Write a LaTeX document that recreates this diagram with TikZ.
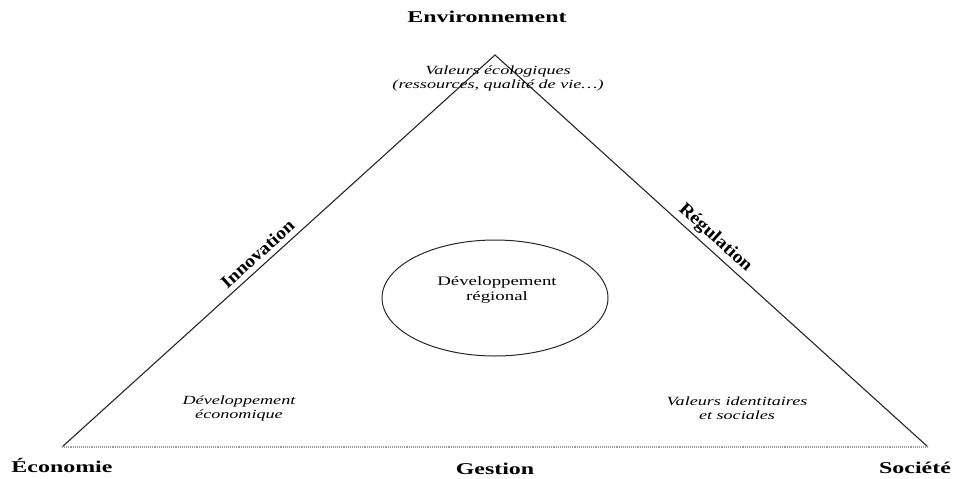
\documentclass[tikz,border=0pt]{standalone}
\usepackage{fontspec}
\setmainfont{Liberation Serif}[FakeStretch=1.45]
\newfontfamily\sidefont{Liberation Serif}[FakeStretch=1.1]
\usetikzlibrary{shapes.geometric}
\begin{document}
\begin{tikzpicture}[x=1pt,y=-1pt,
  corner/.style={font=\bfseries\fontsize{16.5}{19}\selectfont, anchor=base, inner sep=0pt},
  sidelabel/.style={font=\sidefont\bfseries\fontsize{18}{20}\selectfont, inner sep=0pt},
  pole/.style={font=\itshape\fontsize{12.5}{14}\selectfont, align=center, inner sep=0pt},
  centre/.style={font=\fontsize{13}{15}\selectfont, align=center, inner sep=0pt},
  edgeline/.style={line width=1.1pt, black!85},
  baseline/.style={line width=1.1pt, gray!75, densely dotted}]
\path[use as bounding box] (0,0) rectangle (969,479);
\coordinate (A) at (495,55);
\coordinate (E) at (62,447);
\coordinate (S) at (928,447);
\draw[edgeline] (E) -- (A) -- (S);
\draw[baseline] (E) -- (S);
\path (E) -- (A) node[sidelabel, sloped, above=12pt, pos=0.47, anchor=center] (innov) {Innovation};
\path (A) -- (S) node[sidelabel, sloped, above=12pt, pos=0.49, anchor=center] (regul) {Régulation};
\node[ellipse, draw, line width=1pt, black!85, minimum width=226pt, minimum height=116pt, inner sep=0pt] (R) at (495,298) {};
\node[centre] (Rt) at (497,290) {Développement\\régional};
\node[corner] (env) at (487,22) {Environnement};
\node[corner] (eco) at (62,472) {Économie};
\node[corner] (ges) at (495,474) {Gestion};
\node[corner] (soc) at (915,473) {Société};
\node[pole] (vecol) at (498,78) {Valeurs écologiques\\(ressources, qualité de vie…)};
\node[pole] (deco) at (239,408) {Développement\\économique};
\node[pole] (vsoc) at (737,408) {Valeurs identitaires\\et sociales};
\end{tikzpicture}
\end{document}
